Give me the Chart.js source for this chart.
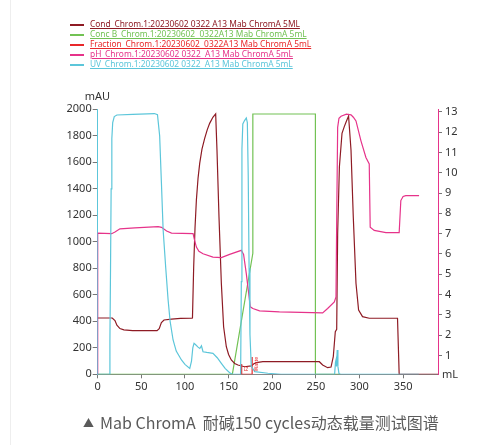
<!DOCTYPE html>
<html>
<head>
<meta charset="utf-8">
<script src="https://cdn.jsdelivr.net/npm/chart.js@4.4.1/dist/chart.umd.min.js"></script>
<style>
  html, body { margin: 0; padding: 0; background: #fff; }
  #wrap { position: relative; width: 495px; height: 445px; overflow: hidden; }
  #edge { position: absolute; left: 10px; top: 0; width: 1px; height: 445px; background: #eeeeee; }
  canvas { position: absolute; left: 0; top: 0; }
  #legend { position: absolute; left: 70px; top: 19px; font-family: "Noto Sans", sans-serif; font-size: 8.4px; }
  .row { position: absolute; left: 0; height: 10px; white-space: pre; }
  .row i { position: absolute; left: 0; top: 5px; width: 14px; height: 2px; }
  .row span { position: absolute; left: 20px; top: 0; line-height: 10px; text-decoration: underline; }
  #caption { position: absolute; left: 83px; top: 410px; font-family: "Noto Sans CJK SC", sans-serif; font-size: 16px; color: #5a5a5a; white-space: pre; }
  #caption b { font-weight: normal; font-size: 11px; position: relative; top: -2px; margin-right: 6px; }
</style>
</head>
<body>
<div id="wrap">
  <div id="edge"></div>
  <canvas id="chrom" width="495" height="445"></canvas>
  <div id="legend"></div>
  <div id="caption"><b>▲</b>Mab ChromA  耐碱150 cycles动态载量测试图谱</div>
</div>
<script>
// curve names as in the legend
const seriesNames = [
  "Cond_Chrom.1:20230602 0322 A13 Mab ChromA 5ML",
  "Conc B_Chrom.1:20230602  0322A13 Mab ChromA 5mL",
  "Fraction_Chrom.1:20230602  0322A13 Mab ChromA 5mL",
  "pH_Chrom.1:20230602 0322  A13 Mab ChromA 5mL",
  "UV_Chrom.1:20230602 0322  A13 Mab ChromA 5mL",
];
const seriesColors = ["#8e1b24", "#72c254", "#e8282b", "#e6338a", "#5cc6da"];

// UV (mAU) vs volume (mL)
const uvMl = [0, 13.3, 14, 14.7, 15.4, 16.2, 17.2, 19, 22, 40, 65, 68.5, 71, 73, 75, 78, 80.7, 83, 86.4, 90, 96, 100, 105.5,
  107.5, 109, 110.4, 112, 115, 117, 118.9, 120.7, 125, 132.1, 137, 141.7, 146, 151.2, 154.6,
  163.8, 164.6, 165.3, 166.3, 168.3, 170.3, 171.5, 172.5, 173.5, 174.5, 176, 180, 195, 210,
  271.5, 272.5, 273.2, 273.7, 274.5, 275.3, 276.5, 278, 368];
const uvMau = [0, 0, 250, 800, 1400, 1780, 1900, 1945, 1957, 1962, 1968, 1960, 1800, 1450, 1089, 800, 561, 400, 259, 175, 108, 75, 45,
  100, 200, 234, 225, 205, 195, 215, 170, 165, 158, 125, 83, 45, 12, 0,
  0, 700, 1700, 1890, 1915, 1935, 1900, 1500, 800, 300, 60, 20, 8, 0,
  0, 90, 110, 60, 183, 60, 5, 0, 0];

// pH vs volume (mL)
const phMl = [0, 0, 16, 19.8, 25.5, 42.6, 69.3, 73.1, 79, 84.6, 109.3, 111, 113.1, 116, 120.7, 132.1, 141.7, 151.2,
  164.6, 167.2, 170.3, 174.9, 177.8, 185.5, 208.3, 257.8, 263.5, 271.2, 273.1, 274, 275, 276.5, 278.9, 285,
  290.3, 293, 296, 301.7, 307.4, 311.2, 312.3, 316.9, 330.3, 345.5, 347.4, 350, 353.1, 368.3];
const phValue = [0, 7.03, 7.0, 7.08, 7.24, 7.29, 7.35, 7.31, 7.13, 7.03, 7.0, 6.68, 6.34, 6.13, 6.01, 5.85, 5.82, 5.98,
  6.18, 5.98, 5.03, 3.4, 3.32, 3.2, 3.15, 3.1, 3.32, 3.64, 3.89, 8.1, 12.23, 12.68, 12.78, 12.88,
  12.85, 12.73, 12.55, 11.57, 10.75, 10.43, 7.32, 7.16, 7.05, 7.05, 8.63, 8.83, 8.87, 8.87];

// conductivity (mS/cm) vs volume (mL)
const condMl = [0, 16.7, 19.8, 22, 25.5, 30, 40, 68, 70.5, 73, 76, 84.6, 95, 107.4, 108.6, 110, 111.5, 113.1, 115,
  116.9, 119.5, 122.6, 125.5, 128.3, 132, 135.2, 136.7, 139, 141.7, 144.3, 147.4, 150, 153.1, 157, 160.7,
  168.3, 176, 179, 181.7, 189.3, 254, 257.8, 263.5, 267.4, 270, 272.3, 273.9, 275, 277, 280, 282.6, 285,
  287.5, 290.3, 292.9, 296, 299, 303.5, 311.2, 343.6, 345.5, 390];
const condValue = [42.5, 42.5, 40.5, 37, 34.5, 33.5, 33, 33, 34.5, 39, 41, 41.7, 42.2, 42.3, 42.5, 81.2, 110, 131.5, 148,
  159.2, 170, 178.1, 184.5, 189.4, 194, 196.5, 169.3, 118.9, 68.7, 35.9, 20.8, 15, 10.8, 8.2, 7,
  5.7, 6.3, 8, 8.8, 9.5, 9.5, 7, 5, 5.5, 13.3, 32.2, 34, 106.4, 156.7, 181.9, 186.9, 191,
  194.9, 169.3, 118.9, 68.7, 48.5, 43.5, 42.3, 42.3, 0, 0];

// Conc B (%) vs volume (mL)
const concMl = [0, 154.3, 177.8, 177.8, 249.5, 249.5, 278];
const concValue = [0, 0, 46.5, 100, 100, 0, 0];

// fraction marks (mL) and their labels
const fractionMl = [165, 165, 177, 177];
const fractionMark = [78, 0, 0, 130];
const fractionLabels = [{ ml: 171, text: "F2" }, { ml: 182, text: "Waste" }];

// axis ticks
const xTicks = [0, 50, 100, 150, 200, 250, 300, 350];
const uvTicks = [0, 200, 400, 600, 800, 1000, 1200, 1400, 1600, 1800, 2000];
const phTicks = [1, 2, 3, 4, 5, 6, 7, 8, 9, 10, 11, 12, 13];

const pts = (xs, ys) => xs.map((x, i) => ({ x: x, y: ys[i] }));

// html legend
const legend = document.getElementById("legend");
seriesNames.forEach((name, i) => {
  const row = document.createElement("div");
  row.className = "row";
  row.style.top = i * 10 + "px";
  row.style.color = seriesColors[i];
  row.innerHTML = '<i style="background:' + seriesColors[i] + '"></i><span>' + name + "</span>";
  legend.appendChild(row);
});

const textPlugin = {
  id: "chromText",
  afterDatasetsDraw(chart) {
    const { ctx, chartArea, scales } = chart;
    ctx.save();
    ctx.fillStyle = "#333";
    ctx.font = '11px "Noto Sans"';
    ctx.textBaseline = "middle";
    ctx.textAlign = "left";
    ctx.fillText("mAU", chartArea.left - 13, chartArea.top - 12);
    ctx.fillText("mL", chartArea.right + 4, chartArea.bottom + 1);

    // fraction labels, rotated
    ctx.fillStyle = seriesColors[2];
    ctx.font = '5px "Noto Sans"';
    fractionLabels.forEach((f) => {
      const px = scales.x.getPixelForValue(f.ml);
      ctx.save();
      ctx.translate(px, chartArea.bottom - 3);
      ctx.rotate(-Math.PI / 2);
      ctx.fillText(f.text, 0, 0);
      ctx.restore();
    });
    ctx.restore();
  },
};

const tickFont = { family: "Noto Sans", size: 11 };
const plain = (v) => String(v);

new Chart(document.getElementById("chrom"), {
  type: "line",
  data: {
    datasets: [
      { label: "UV", data: pts(uvMl, uvMau), borderColor: seriesColors[4], yAxisID: "y" },
      { label: "pH", data: pts(phMl, phValue), borderColor: seriesColors[3], yAxisID: "y1" },
      { label: "Fraction", data: pts(fractionMl, fractionMark), borderColor: seriesColors[2], yAxisID: "y" },
      { label: "Cond", data: pts(condMl, condValue), borderColor: seriesColors[0], yAxisID: "yCond" },
      { label: "Conc B", data: pts(concMl, concValue), borderColor: seriesColors[1], yAxisID: "yConc" },
    ],
  },
  options: {
    responsive: false,
    animation: false,
    devicePixelRatio: 1,
    layout: { padding: { left: 57.7, right: 27, top: 109.3, bottom: 50.7 } },
    elements: {
      point: { radius: 0 },
      line: { borderWidth: 1.2, tension: 0, fill: false },
    },
    plugins: { legend: { display: false }, tooltip: { enabled: false } },
    scales: {
      x: {
        type: "linear",
        min: 0,
        max: 390,
        afterBuildTicks: (axis) => { axis.ticks = xTicks.map((v) => ({ value: v })); },
        afterFit: (axis) => { axis.height = 20; },
        grid: { drawOnChartArea: false, drawTicks: true, tickLength: 4, color: "#777" },
        border: { display: true, color: "#888" },
        ticks: { font: tickFont, color: "#333", padding: 2, maxRotation: 0, callback: plain },
      },
      y: {
        position: "left",
        min: 0,
        max: 2000,
        afterBuildTicks: (axis) => { axis.ticks = uvTicks.map((v) => ({ value: v })); },
        afterFit: (axis) => { axis.width = 40; },
        grid: { drawOnChartArea: false, drawTicks: true, tickLength: 5, color: "#777" },
        border: { display: true, color: seriesColors[4] },
        ticks: { font: tickFont, color: "#333", padding: 1, callback: plain },
      },
      y1: {
        position: "right",
        min: 0.08,
        max: 13.12,
        afterBuildTicks: (axis) => { axis.ticks = phTicks.map((v) => ({ value: v })); },
        afterFit: (axis) => { axis.width = 30; },
        grid: { drawOnChartArea: false, drawTicks: true, tickLength: 4, color: "#777" },
        border: { display: true, color: seriesColors[3] },
        ticks: { font: tickFont, color: "#333", padding: 3, callback: plain },
      },
      yCond: { display: false, min: 0, max: 200 },
      yConc: { display: false, min: 0, max: 101.8 },
    },
  },
  plugins: [textPlugin],
});
</script>
</body>
</html>
